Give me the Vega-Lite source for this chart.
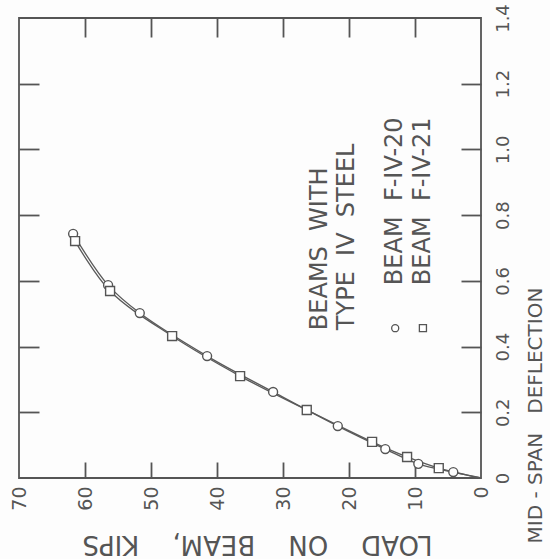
{
  "$schema": "https://vega.github.io/schema/vega-lite/v6.json",
  "width": 462,
  "height": 460,
  "autosize": "none",
  "padding": {"left": 19, "top": 18, "right": 69, "bottom": 81},
  "background": "#fdfdfd",
  "config": {
    "view": {"stroke": "#555555", "strokeWidth": 1.8},
    "font": "DejaVu Sans",
    "axis": {"domain": false, "grid": false, "ticks": true, "tickColor": "#555555", "tickOpacity": 1, "tickWidth": 1.8, "labelColor": "#555555", "titleColor": "#555555", "titleFontWeight": "normal", "labelFont": "DejaVu Sans", "titleFont": "DejaVu Sans"}
  },
  "datasets": {
    "pts": [
      {"beam": "F-IV-20", "load": 0, "defl": 0, "kind": "end"},
      {"beam": "F-IV-20", "load": 4.2, "defl": 0.018, "kind": "pt"},
      {"beam": "F-IV-20", "load": 9.5, "defl": 0.043, "kind": "pt"},
      {"beam": "F-IV-20", "load": 14.5, "defl": 0.088, "kind": "pt"},
      {"beam": "F-IV-20", "load": 21.7, "defl": 0.158, "kind": "pt"},
      {"beam": "F-IV-20", "load": 31.5, "defl": 0.262, "kind": "pt"},
      {"beam": "F-IV-20", "load": 41.5, "defl": 0.371, "kind": "pt"},
      {"beam": "F-IV-20", "load": 51.7, "defl": 0.502, "kind": "pt"},
      {"beam": "F-IV-20", "load": 56.5, "defl": 0.587, "kind": "pt"},
      {"beam": "F-IV-20", "load": 61.8, "defl": 0.743, "kind": "pt"},
      {"beam": "F-IV-21", "load": 0, "defl": 0, "kind": "end"},
      {"beam": "F-IV-21", "load": 6.4, "defl": 0.030, "kind": "pt"},
      {"beam": "F-IV-21", "load": 11.2, "defl": 0.064, "kind": "pt"},
      {"beam": "F-IV-21", "load": 16.5, "defl": 0.110, "kind": "pt"},
      {"beam": "F-IV-21", "load": 26.4, "defl": 0.207, "kind": "pt"},
      {"beam": "F-IV-21", "load": 36.5, "defl": 0.310, "kind": "pt"},
      {"beam": "F-IV-21", "load": 46.8, "defl": 0.432, "kind": "pt"},
      {"beam": "F-IV-21", "load": 56.2, "defl": 0.569, "kind": "pt"},
      {"beam": "F-IV-21", "load": 61.5, "defl": 0.721, "kind": "pt"}
    ],
    "notes": [
      {"text": "BEAMS\u00a0\u00a0WITH", "load": 24.4, "defl": 0.45},
      {"text": "TYPE\u00a0\u00a0IV\u00a0\u00a0STEEL", "load": 20.3, "defl": 0.45},
      {"text": "BEAM\u00a0\u00a0F-IV-20", "load": 13.0, "defl": 0.587},
      {"text": "BEAM\u00a0\u00a0F-IV-21", "load": 8.8, "defl": 0.587}
    ],
    "keys": [
      {"beam": "F-IV-20", "load": 13.0, "defl": 0.456},
      {"beam": "F-IV-21", "load": 8.8, "defl": 0.456}
    ]
  },
  "layer": [
    {
      "data": {"name": "pts"},
      "mark": {"type": "line", "interpolate": "catmull-rom", "color": "#5a5a5a", "strokeWidth": 1.3},
      "encoding": {
        "x": {"field": "load", "type": "quantitative", "scale": {"domain": [0, 70], "reverse": true, "nice": false},
          "axis": {"orient": "bottom", "offset": -16, "values": [10, 20, 30, 40, 50, 60], "labelAngle": 270, "labelAlign": "right", "labelBaseline": "middle", "labelFontSize": 19, "ticks": true, "tickSize": 16, "labelPadding": 8,
            "title": "LOAD\u00a0\u00a0\u00a0\u00a0ON\u00a0\u00a0\u00a0\u00a0BEAM,\u00a0\u00a0\u00a0\u00a0KIPS", "titleAngle": 180, "titleFontSize": 26, "titleX": 238, "titleY": 81, "titleAlign": "center", "titleBaseline": "middle"}},
        "y": {"field": "defl", "type": "quantitative", "scale": {"domain": [0, 1.4], "nice": false},
          "axis": {"orient": "right", "offset": -20, "values": [0.2, 0.4, 0.6, 0.8, 1.0, 1.2], "labelExpr": "datum.value == 0 ? '0' : format(datum.value, '.1f')", "labelAngle": 270, "labelAlign": "center", "labelBaseline": "middle", "labelFontSize": 18, "tickSize": 20, "labelPadding": 22,
            "title": "MID - SPAN\u00a0\u00a0\u00a0DEFLECTION", "titleAngle": 270, "titleFontSize": 20, "titleX": 74, "titleY": 397, "titleAlign": "center", "titleBaseline": "middle"}},
        "detail": {"field": "beam"}
      }
    },
    {
      "data": {"name": "pts"},
      "transform": [{"filter": "datum.kind == 'pt'"}],
      "mark": {"type": "point", "filled": false, "fill": "#ffffff", "fillOpacity": 1, "color": "#555555", "strokeWidth": 1.4, "opacity": 1},
      "encoding": {
        "x": {"field": "load", "type": "quantitative", "axis": {"orient": "top", "offset": -19, "values": [10, 20, 30, 40, 50, 60], "labels": false, "ticks": true, "tickSize": 19, "title": null}},
        "y": {"field": "defl", "type": "quantitative", "axis": {"orient": "left", "offset": -20, "values": [0.2, 0.4, 0.6, 0.8, 1.0, 1.2], "labels": false, "tickSize": 20, "title": null}},
        "shape": {"field": "beam", "type": "nominal", "scale": {"domain": ["F-IV-20", "F-IV-21"], "range": ["circle", "square"]}, "legend": null},
        "size": {"value": 80}
      }
    },
    {
      "data": {"name": "keys"},
      "mark": {"type": "point", "filled": false, "fill": "#ffffff", "fillOpacity": 1, "color": "#555555", "strokeWidth": 1.3, "opacity": 1},
      "encoding": {
        "x": {"field": "load", "type": "quantitative", "axis": {"orient": "bottom", "offset": 0, "values": [0, 70], "labelAngle": 270, "labelAlign": "right", "labelBaseline": "middle", "labelFontSize": 19, "ticks": false, "labelPadding": 8, "title": null}},
        "y": {"field": "defl", "type": "quantitative", "axis": {"orient": "right", "offset": 0, "values": [0, 1.4], "labelExpr": "datum.value == 0 ? '0' : format(datum.value, '.1f')", "labelAngle": 270, "labelAlign": "center", "labelBaseline": "middle", "labelFontSize": 18, "ticks": false, "labelPadding": 22, "title": null}},
        "shape": {"field": "beam", "type": "nominal", "legend": null},
        "size": {"value": 50}
      }
    },
    {
      "data": {"name": "notes"},
      "mark": {"type": "text", "angle": 270, "align": "left", "baseline": "middle", "fontSize": 24, "color": "#555555", "font": "DejaVu Sans"},
      "encoding": {
        "x": {"field": "load", "type": "quantitative", "axis": null},
        "y": {"field": "defl", "type": "quantitative", "axis": null},
        "text": {"field": "text"}
      }
    }
  ]
}
